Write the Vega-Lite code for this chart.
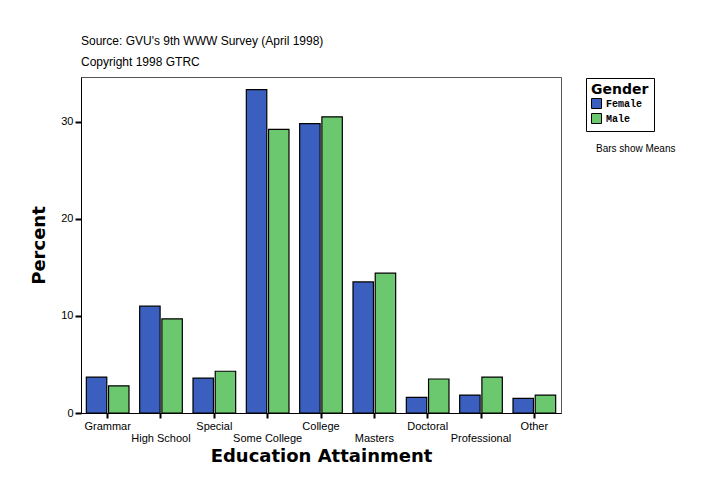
{
  "$schema": "https://vega.github.io/schema/vega-lite/v6.json",
  "description": "Education attainment by gender, GVU 9th WWW survey.",
  "autosize": "none",
  "padding": {"left": 81, "top": 77, "right": 163, "bottom": 89},
  "width": 480,
  "height": 336,
  "background": "white",
  "title": {
    "text": "Source: GVU's 9th WWW Survey (April 1998)",
    "subtitle": "Copyright 1998 GTRC",
    "anchor": "start",
    "frame": "group",
    "font": "Liberation Sans",
    "fontSize": 12,
    "fontWeight": "normal",
    "subtitleFont": "Liberation Sans",
    "subtitleFontSize": 12,
    "subtitlePadding": 9,
    "offset": 8,
    "color": "black",
    "subtitleColor": "black"
  },
  "data": {
    "values": [
      {"Education": "Grammar", "Gender": "Female", "Percent": 3.7, "note": "Bars show Means"},
      {"Education": "Grammar", "Gender": "Male", "Percent": 2.8, "note": "Bars show Means"},
      {"Education": "High School", "Gender": "Female", "Percent": 11.0, "note": "Bars show Means"},
      {"Education": "High School", "Gender": "Male", "Percent": 9.7, "note": "Bars show Means"},
      {"Education": "Special", "Gender": "Female", "Percent": 3.6, "note": "Bars show Means"},
      {"Education": "Special", "Gender": "Male", "Percent": 4.3, "note": "Bars show Means"},
      {"Education": "Some College", "Gender": "Female", "Percent": 33.3, "note": "Bars show Means"},
      {"Education": "Some College", "Gender": "Male", "Percent": 29.2, "note": "Bars show Means"},
      {"Education": "College", "Gender": "Female", "Percent": 29.8, "note": "Bars show Means"},
      {"Education": "College", "Gender": "Male", "Percent": 30.5, "note": "Bars show Means"},
      {"Education": "Masters", "Gender": "Female", "Percent": 13.5, "note": "Bars show Means"},
      {"Education": "Masters", "Gender": "Male", "Percent": 14.4, "note": "Bars show Means"},
      {"Education": "Doctoral", "Gender": "Female", "Percent": 1.6, "note": "Bars show Means"},
      {"Education": "Doctoral", "Gender": "Male", "Percent": 3.5, "note": "Bars show Means"},
      {"Education": "Professional", "Gender": "Female", "Percent": 1.85, "note": "Bars show Means"},
      {"Education": "Professional", "Gender": "Male", "Percent": 3.7, "note": "Bars show Means"},
      {"Education": "Other", "Gender": "Female", "Percent": 1.5, "note": "Bars show Means"},
      {"Education": "Other", "Gender": "Male", "Percent": 1.85, "note": "Bars show Means"}
    ]
  },
  "mark": {"type": "bar", "stroke": "black", "strokeWidth": 1.2},
  "encoding": {
    "x": {
      "field": "Education",
      "type": "nominal",
      "sort": null,
      "scale": {"paddingInner": 0.2, "paddingOuter": 0.1},
      "axis": {
        "title": "Education Attainment",
        "titleFont": "DejaVu Sans",
        "titleFontSize": 18,
        "titleFontWeight": "bold",
        "titlePadding": 4,
        "labelAngle": 0,
        "labelFont": "Liberation Sans",
        "labelFontSize": 11,
        "labelColor": "black",
        "labelPadding": 2,
        "labelLineHeight": 12,
        "labelExpr": "indexof(['High School', 'Some College', 'Masters', 'Professional'], datum.label) >= 0 ? ['', datum.label] : datum.label",
        "tickSize": 5,
        "tickWidth": 2,
        "tickColor": "black",
        "domainColor": "black",
        "domainWidth": 1
      }
    },
    "xOffset": {
      "field": "Gender",
      "type": "nominal",
      "scale": {"paddingInner": 0.08}
    },
    "y": {
      "field": "Percent",
      "type": "quantitative",
      "scale": {"domain": [0, 34.6], "nice": false},
      "axis": {
        "title": "Percent",
        "titleFont": "DejaVu Sans",
        "titleFontSize": 18,
        "titleFontWeight": "bold",
        "titlePadding": 12,
        "values": [0, 10, 20, 30],
        "grid": false,
        "labelFont": "Liberation Sans",
        "labelFontSize": 11,
        "labelColor": "black",
        "tickSize": 6,
        "tickWidth": 2,
        "tickColor": "black",
        "domainColor": "black"
      }
    },
    "color": {
      "field": "Gender",
      "type": "nominal",
      "scale": {"domain": ["Female", "Male"], "range": ["#3a5fbe", "#6cc86e"]},
      "legend": {
        "title": "Gender",
        "orient": "none",
        "legendX": 505,
        "legendY": 1,
        "direction": "vertical",
        "strokeColor": "black",
        "padding": 5,
        "titleFont": "DejaVu Sans",
        "titleFontSize": 14,
        "titleFontWeight": "bold",
        "titlePadding": 1,
        "labelFont": "Liberation Mono",
        "labelFontSize": 10,
        "labelFontWeight": "bold",
        "labelColor": "black",
        "labelOffset": 4,
        "symbolType": "square",
        "symbolSize": 100,
        "symbolStrokeColor": "black",
        "symbolStrokeWidth": 1,
        "symbolOpacity": 1,
        "rowPadding": 0
      }
    },
    "opacity": {
      "field": "note",
      "type": "nominal",
      "scale": {"range": [1]},
      "legend": {
        "title": null,
        "orient": "none",
        "legendX": 513,
        "legendY": 67,
        "symbolSize": 0,
        "symbolOpacity": 0,
        "symbolStrokeWidth": 0,
        "symbolOffset": -12,
        "labelFont": "Liberation Sans",
        "labelFontSize": 10,
        "labelColor": "black"
      }
    }
  },
  "config": {
    "view": {"stroke": "#555555"}
  }
}
